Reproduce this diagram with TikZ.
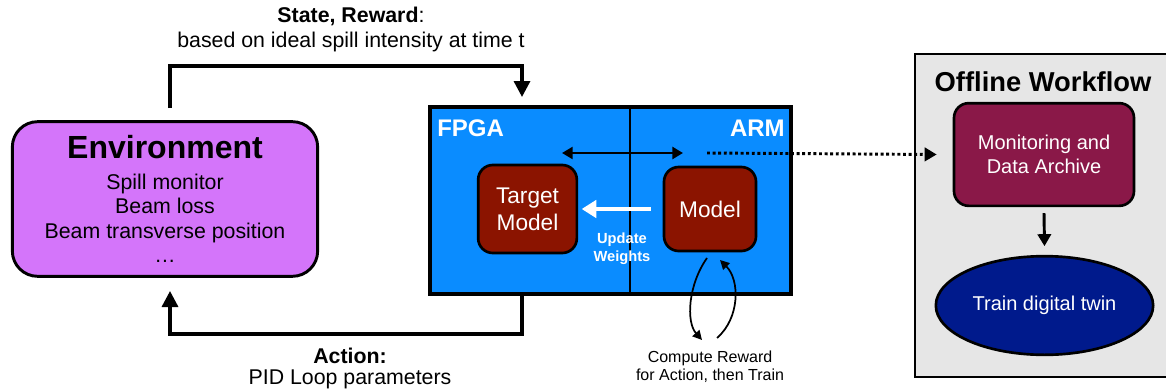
\documentclass[tikz,border=0pt]{standalone}
\usepackage{fontspec}
\setmainfont{Liberation Sans}
\usetikzlibrary{arrows.meta,shapes.geometric}

\definecolor{envpurple}{RGB}{212,117,250}
\definecolor{boardblue}{RGB}{10,140,255}
\definecolor{modelred}{RGB}{139,20,0}
\definecolor{archivered}{RGB}{138,24,72}
\definecolor{twinblue}{RGB}{0,26,140}
\definecolor{offgrey}{RGB}{230,230,230}

\newcommand{\fsz}[2]{\fontsize{#1}{#2}\selectfont}

\begin{document}
\begin{tikzpicture}[x=0.75pt,y=-0.75pt,
    flow/.style={line width=2.5pt,-{Triangle[length=12pt,width=12pt]}},
    redbox/.style={draw,line width=2pt,rounded corners=11pt,fill=modelred,
      text=white,align=center,inner sep=0pt,font=\fsz{17}{20}},
    lbl/.style={inner sep=0pt,align=center}]

  \useasboundingbox (0,0) rectangle (1166,389);

  % offline part
  \node[draw,line width=1.1pt,fill=offgrey,minimum width=195pt,minimum height=242pt,
        inner sep=0pt] (offline) at (1045,215.5) {};
  \node[lbl,font=\fsz{20.5}{24}\bfseries] (offtitle) at (1043,82) {Offline Workflow};
  \node[draw,line width=2pt,rounded corners=11pt,fill=archivered,text=white,align=center,
        minimum width=135pt,minimum height=77pt,inner sep=0pt,font=\fsz{15}{17.5}]
        (archive) at (1044,154.5) {Monitoring and\\Data Archive};
  \node[ellipse,draw,line width=2pt,fill=twinblue,text=white,minimum width=163pt,
        minimum height=74pt,inner sep=0pt,font=\fsz{15}{18}] (twin) at (1044.5,305.5)
        {Train digital twin};

  % environment
  \node[draw,line width=2.2pt,rounded corners=19pt,fill=envpurple,align=center,
        minimum width=229pt,minimum height=116pt,inner sep=0pt,font=\fsz{16}{18.4}]
        (env) at (165,199)
        {{\fsz{24}{24}\bfseries Environment}\\[4.6pt]Spill monitor\\Beam loss\\
         Beam transverse position\\…};

  % fpga / arm board
  \node[draw,line width=2.8pt,fill=boardblue,minimum width=271pt,minimum height=140pt,
        inner sep=0pt] (board) at (610.5,200.5) {};
  \coordinate (divtop) at (630,107);
  \coordinate (divbot) at (630,294);
  \draw[line width=2.2pt] (divtop) -- (divbot);
  \node[lbl,anchor=west,text=white,font=\fsz{18}{20}\bfseries] (fpga) at (437,128) {FPGA};
  \node[lbl,anchor=east,text=white,font=\fsz{18}{20}\bfseries] (arm) at (785,128) {ARM};

  \node[redbox,minimum width=74pt,minimum height=66pt] (target) at (527.5,209) {Target\\Model};
  \node[redbox,minimum width=69pt,minimum height=63pt] (model) at (710,209) {Model};

  \node[lbl,text=white,font=\fsz{11}{13.5}\bfseries] (update) at (622,249) {Update\\Weights};

  % arrows inside the board
  \coordinate (syncl) at (562,153);
  \coordinate (syncr) at (683,153);
  \coordinate (dots) at (707,153);
  \draw[line width=1.8pt,{Triangle[length=8pt,width=9pt]}-{Triangle[length=8pt,width=9pt]}]
    (syncl) -- (syncr);
  \draw[line width=2.2pt,dotted,-{Triangle[length=9pt,width=10pt]}]
    (dots) -- ([xshift=-12pt]archive.west);
  \draw[white,line width=3pt,-{Triangle[length=11pt,width=13pt]}]
    ([xshift=-9pt]model.west) -- ([xshift=-4pt]target.east -| 587,0);
  \draw[line width=2.2pt,-{Triangle[length=9pt,width=10pt]}]
    ([yshift=-4.5pt]archive.south) -- ([yshift=6.5pt]twin.north);

  % training loop
  \node[lbl,font=\fsz{12}{13.5}] (reward) at (710,367) {Compute Reward\\for Action, then Train};
  \coordinate (lpa) at (707,258);
  \coordinate (lpb) at (702,340);
  \coordinate (lpc) at (717,338);
  \coordinate (lpd) at (720,260);
  \draw[line width=1.3pt,-{Triangle[length=7pt,width=7pt]}]
    (lpa) .. controls (688,285) and (686,322) .. (lpb);
  \draw[line width=1.3pt,-{Triangle[length=7pt,width=7pt]}]
    (lpc) .. controls (740,318) and (740,280) .. (lpd);

  % state and action loop
  \coordinate (envup) at (170,108);
  \coordinate (fpgain) at (522,97);
  \coordinate (fpgaout) at (522,295);
  \coordinate (envin) at (170,291);
  \draw[flow] (envup) |- (346,66) -| (fpgain);
  \draw[flow] (fpgaout) |- (346,334) -| (envin);

  \node[lbl,font=\fsz{16}{18}] (state) at (351,16) {\textbf{State, Reward}:};
  \node[lbl,font=\fsz{16}{18}] (statetxt) at (351,42) {based on ideal spill intensity at time t};
  \node[lbl,font=\fsz{16}{18}\bfseries] (action) at (350,356) {Action:};
  \node[lbl,font=\fsz{16}{18}] (actiontxt) at (350,379) {PID Loop parameters};

\end{tikzpicture}
\end{document}
